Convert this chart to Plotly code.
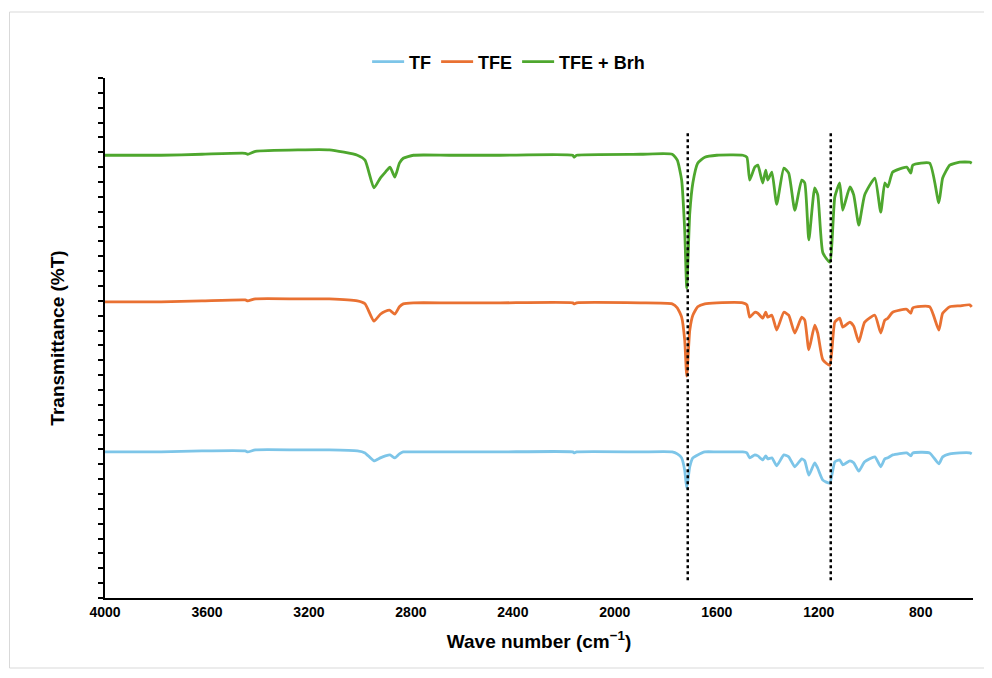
import plotly.graph_objects as go

# Wavenumber grid (cm^-1)
wavenumber = [4000, 3780, 3620, 3450, 3440, 3410, 3240, 3120, 3010, 2980, 2945, 2920, 2900, 2882, 2863,
              2845, 2830, 2790, 2650, 2450, 2165, 2160, 2150, 1900, 1775, 1755, 1738, 1726, 1718, 1706,
              1694, 1675, 1647, 1600, 1498, 1482, 1471, 1451, 1439, 1420, 1408, 1400, 1384, 1365, 1337,
              1318, 1294, 1267, 1255, 1239, 1216, 1204, 1184, 1157, 1137, 1118, 1106, 1078, 1063, 1043,
              1020, 980, 957, 941, 929, 910, 855, 839, 831, 765, 729, 714, 686, 647, 608, 600]

tfe_brh = [89.4, 89.4, 89.6, 89.8, 89.6, 90.2, 90.5, 90.5, 89.4, 88.4, 82.8, 84.8, 86.0, 87.0, 85.0,
           87.8, 88.8, 89.4, 89.4, 89.4, 89.4, 89.0, 89.4, 89.6, 89.6, 88.4, 84.4, 74.3, 62.6, 77.7,
           83.8, 87.8, 89.0, 89.4, 89.4, 89.0, 84.4, 87.0, 87.4, 83.8, 86.4, 84.4, 86.0, 79.5, 86.8,
           85.8, 78.3, 84.4, 83.8, 72.3, 82.8, 81.4, 69.7, 67.8, 81.0, 83.8, 78.3, 83.0, 81.4, 75.3,
           81.4, 84.8, 77.9, 83.8, 83.0, 86.0, 87.0, 85.8, 87.4, 87.8, 79.8, 84.8, 87.4, 88.0, 88.0, 87.8]

tfe = [59.8, 59.8, 60.0, 60.2, 60.0, 60.4, 60.4, 60.4, 60.0, 59.4, 55.9, 57.3, 57.9, 58.1, 57.3,
       58.8, 59.4, 59.6, 59.6, 59.6, 59.6, 59.4, 59.6, 59.6, 59.4, 58.6, 56.7, 52.1, 44.8, 54.1,
       57.1, 58.8, 59.4, 59.6, 59.6, 59.2, 56.7, 57.7, 57.5, 56.5, 57.7, 56.7, 57.1, 54.1, 57.7,
       57.1, 53.5, 56.7, 56.1, 50.1, 55.1, 53.5, 48.1, 47.0, 55.7, 56.5, 54.7, 55.7, 54.9, 51.7,
       55.7, 57.1, 53.5, 56.1, 56.5, 57.7, 58.3, 57.5, 58.6, 58.8, 54.1, 57.5, 58.8, 59.0, 59.2, 58.8]

tf = [29.5, 29.5, 29.7, 29.7, 29.5, 29.9, 29.9, 29.9, 29.7, 29.3, 27.7, 28.3, 28.7, 28.9, 28.3,
      29.1, 29.5, 29.5, 29.5, 29.5, 29.5, 29.3, 29.5, 29.5, 29.5, 29.1, 28.3, 25.8, 22.2, 26.5,
      28.3, 28.9, 29.5, 29.5, 29.5, 29.3, 28.3, 28.9, 28.7, 27.9, 28.7, 28.1, 28.3, 26.7, 28.9,
      28.5, 26.5, 28.1, 27.7, 24.8, 27.3, 26.2, 23.8, 23.2, 27.5, 27.9, 26.9, 27.7, 27.3, 25.6,
      27.5, 28.5, 26.5, 28.1, 28.3, 28.9, 29.3, 28.7, 29.3, 29.3, 27.1, 28.5, 29.1, 29.3, 29.3, 29.1]

series_names = ["TF", "TFE", "TFE + Brh"]
series_colors = ["#7DC5E8", "#E97132", "#4EA72E"]

marker_wn = [1714, 1153]
marker_y = [3.6, 94.1]

x_ticks = [4000, 3600, 3200, 2800, 2400, 2000, 1600, 1200, 800]

fig = go.Figure()
for name, vals, col in zip(series_names, [tf, tfe, tfe_brh], series_colors):
    fig.add_trace(go.Scatter(x=wavenumber, y=vals, mode="lines", name=name,
                             line=dict(color=col, width=2.8, shape="spline", smoothing=0.5)))

for wn in marker_wn:
    fig.add_shape(type="line", xref="x", yref="y", x0=wn, x1=wn, y0=marker_y[0], y1=marker_y[1],
                  line=dict(color="black", width=2.5, dash="dot"))

# outer border
fig.add_shape(type="rect", xref="paper", yref="paper",
              x0=-95.5/868, x1=(989.5-105)/868, y0=-(668-598)/520, y1=1+(78-12)/520,
              line=dict(color="#D9D9D9", width=1), fillcolor="rgba(0,0,0,0)", layer="below")

font_family = "Liberation Sans, Arial, sans-serif"
fig.update_layout(
    width=984, height=670,
    margin=dict(l=97, r=19, t=70, b=80),
    paper_bgcolor="white", plot_bgcolor="white",
    font=dict(family=font_family, color="black"),
    showlegend=True,
    legend=dict(orientation="h", x=0.465, xanchor="center", y=1.031, yanchor="middle",
                font=dict(size=18, family=font_family, color="black", weight="bold"),
                itemwidth=32, tracegroupgap=0, bgcolor="rgba(0,0,0,0)"),
    xaxis=dict(range=[4000, 595], tickvals=x_ticks, ticktext=[str(t) for t in x_ticks],
               showgrid=False, zeroline=False, showline=True, linecolor="black", linewidth=2,
               ticks="", tickfont=dict(size=14, weight="bold", color="black"),
               title=dict(text="Wave number (cm<sup>−1</sup>)", standoff=16,
                          font=dict(size=19, weight="bold", color="black"))),
    yaxis=dict(range=[0, 105], dtick=3, tick0=0, showticklabels=False, showgrid=False,
               zeroline=False, showline=True, linecolor="black", linewidth=2,
               ticks="outside", ticklen=5, tickwidth=1.5, tickcolor="black",
               title=dict(text="Transmittance (%T)", standoff=28,
                          font=dict(size=19, weight="bold", color="black"))),
)

fig.write_html("out.html")
